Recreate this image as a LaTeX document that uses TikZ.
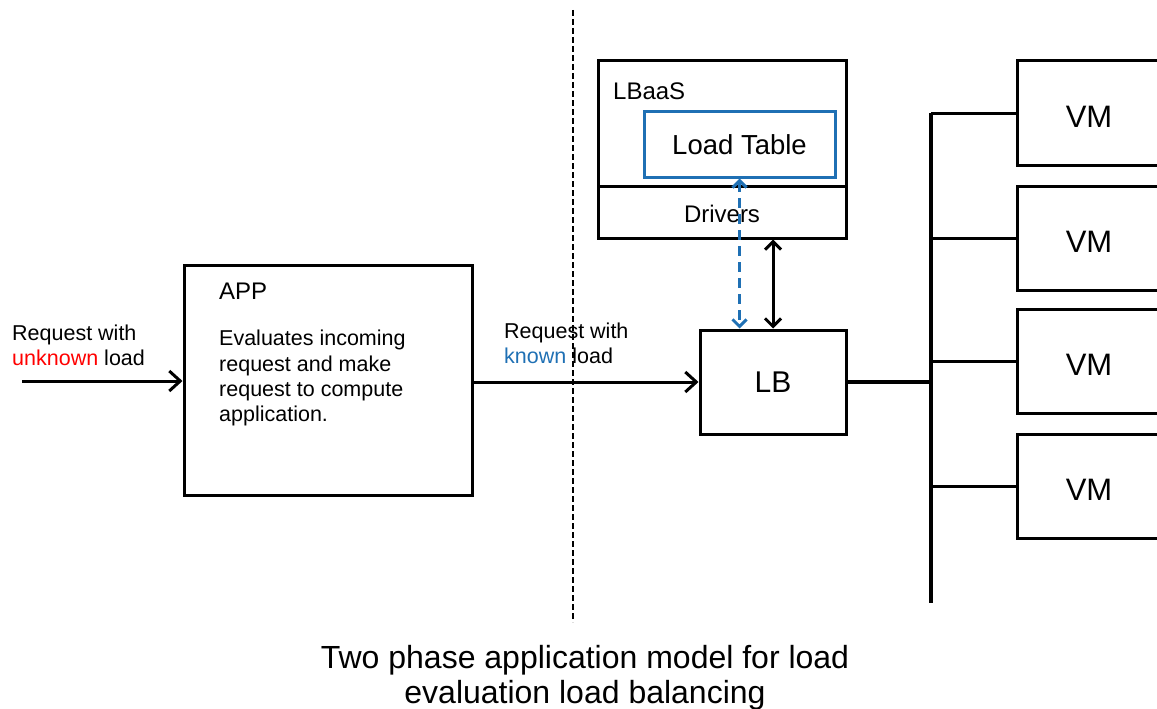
\documentclass[tikz,border=0pt]{standalone}
\usepackage{fontspec}
\setmainfont{Liberation Sans}
\usetikzlibrary{arrows.meta}
\definecolor{lbblue}{RGB}{31,112,180}
\definecolor{lbred}{RGB}{255,0,0}
\tikzset{
  box/.style={draw=black, line width=3pt, rectangle, inner sep=0pt},
  bluebox/.style={draw=lbblue, line width=3pt, rectangle, inner sep=0pt},
  wire/.style={line width=3pt, black},
  flow/.style={line width=3pt, black, -{Straight Barb[length=11pt,width=20pt,line width=3pt]}},
  small/.style={font=\fontsize{21.5}{25.3}\selectfont, inner sep=0pt, align=left},
}
\begin{document}
\begin{tikzpicture}[x=1pt,y=-1pt]
\useasboundingbox (0,0) rectangle (1157,709);

% application box
\node[box, minimum width=288, minimum height=230] (app) at (328,380) {};
\node[small, anchor=west, font=\fontsize{24}{28}\selectfont] (applbl) at (219,291) {APP};
\node[small, anchor=north west] (apptxt) at (219,330)
  {Evaluates incoming\\request and make\\request to compute\\application.};

% phase separator
\coordinate (sepT) at (573,10);
\coordinate (sepB) at (573,622);
\draw[line width=2.5pt, dash pattern=on 6pt off 3pt] (sepT) -- (sepB);

% LBaaS with load table and drivers
\node[box, minimum width=248, minimum height=177] (lbaas) at (722,149.5) {};
\node[box, minimum width=248, minimum height=52, text depth=0pt,
      font=\fontsize{24}{28}\selectfont] (drivers) at (722,212) {\raisebox{-3pt}{Drivers}};
\node[small, anchor=west, font=\fontsize{24}{28}\selectfont] (lbaaslbl) at (613,91) {LBaaS};
\node[bluebox, minimum width=191, minimum height=66, text height=21pt, text depth=0pt,
      font=\fontsize{27.5}{32}\selectfont] (table) at (739.5,144) {Load Table};

% load balancer
\node[box, minimum width=146, minimum height=104,
      font=\fontsize{30}{34}\selectfont] (lb) at (773,382) {LB};

% virtual machines
\foreach \i/\y in {1/113,2/238,3/361.5,4/486}{
  \node[box, minimum width=144, minimum height=104, text height=28pt, text depth=0pt,
        font=\fontsize{31}{36}\selectfont] (vm\i) at (1089,\y) {VM};
}

% incoming request
\coordinate (in) at (22,381);
\draw[flow] (in) -- (in -| app.west);
\node[small, anchor=west] (reqin) at (12,345)
  {Request with\\\textcolor{lbred}{unknown} load};

% request forwarded to the load balancer
\draw[flow] (app.east |- lb.west) -- (lb.west);
\node[small, anchor=west] (reqout) at (504,343)
  {Request with\\\textcolor{lbblue}{known} load};

% control links
\draw[line width=3pt, lbblue, dash pattern=on 10pt off 6pt,
      {Straight Barb[length=7pt,width=14pt,line width=3pt]}-{Straight Barb[length=7pt,width=14pt,line width=3pt]}]
  (table.south) -- (table.south |- lb.north);
\draw[line width=3pt, black,
      {Straight Barb[length=8pt,width=16pt,line width=3pt]}-{Straight Barb[length=8pt,width=16pt,line width=3pt]}]
  (lb.north |- drivers.south) -- (lb.north);

% distribution bus
\coordinate (busT) at (931,113);
\coordinate (busB) at (931,603);
\draw[line width=4pt] (busT) -- (busB);
\draw[line width=4pt] (lb.east) -- (lb.east -| busT);
\foreach \i in {1,2,3,4}{
  \draw[wire] (vm\i.west -| busT) -- (vm\i.west);
}

% caption
\node[font=\fontsize{32}{35}\selectfont, align=center, inner sep=0pt] (caption) at (585,678)
  {Two phase application model for load\\evaluation load balancing};
\end{tikzpicture}
\end{document}
